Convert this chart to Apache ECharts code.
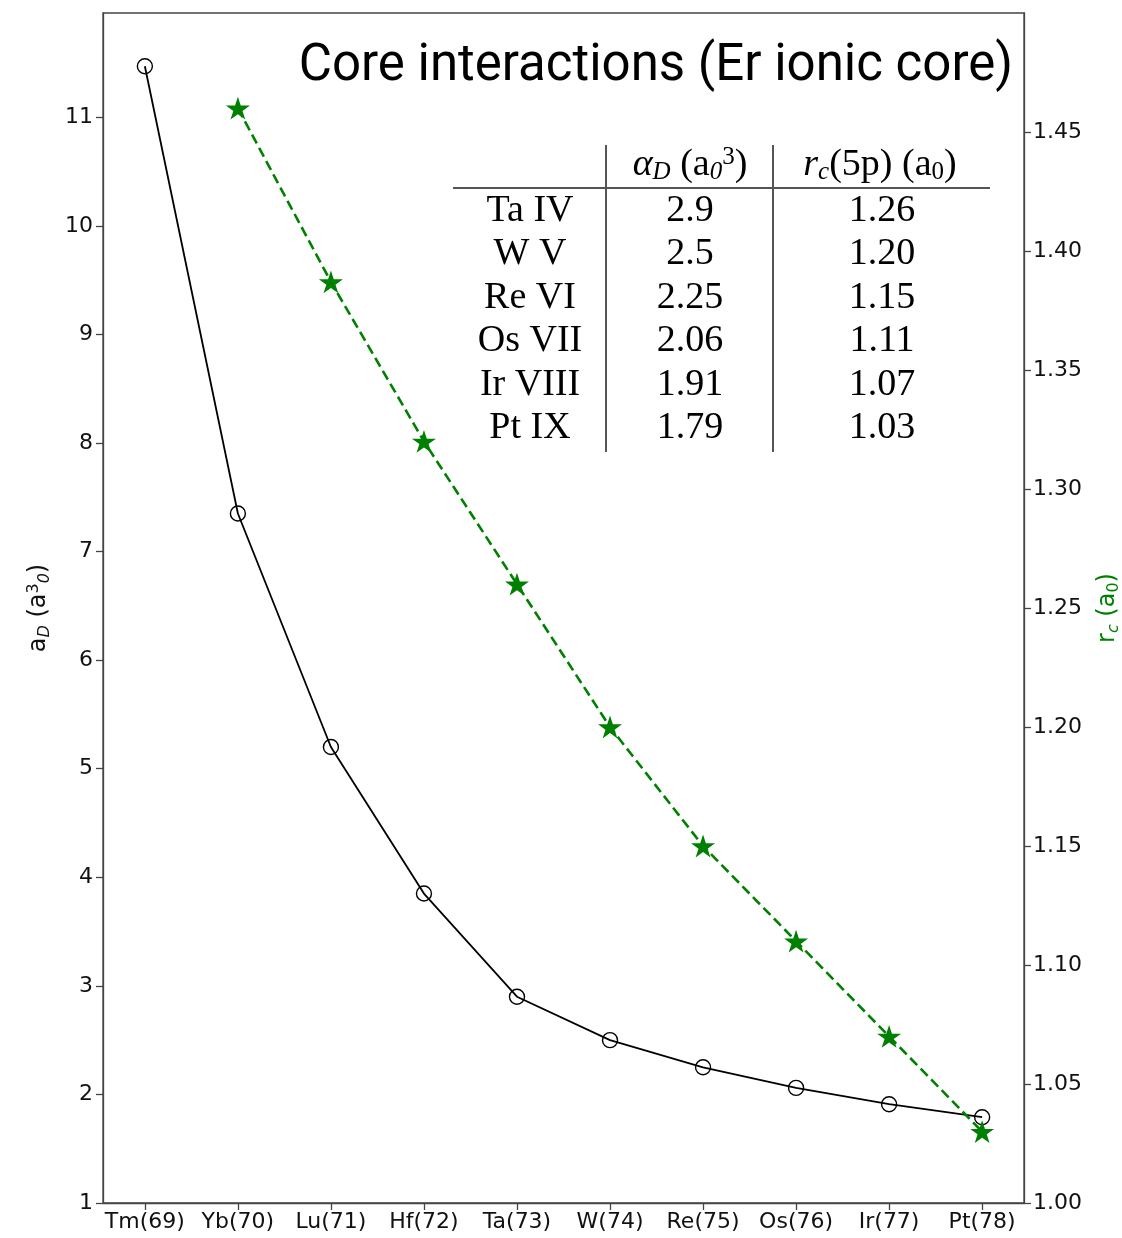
<!DOCTYPE html>
<html><head><meta charset="utf-8">
<script src="https://cdn.jsdelivr.net/npm/echarts@6/dist/echarts.min.js"></script>
<style>html,body{margin:0;padding:0;background:#fff;overflow:hidden}#c{width:1122px;height:1238px}</style>
</head><body><div id="c"></div>
<script>
// ---- data ----
const categories = ['Tm(69)','Yb(70)','Lu(71)','Hf(72)','Ta(73)','W(74)','Re(75)','Os(76)','Ir(77)','Pt(78)'];
const alphaD = [11.47, 7.35, 5.2, 3.85, 2.9, 2.5, 2.25, 2.06, 1.91, 1.79];
const rc5p = [null, 1.46, 1.387, 1.32, 1.26, 1.20, 1.15, 1.11, 1.07, 1.03];
const leftTicks = [1,2,3,4,5,6,7,8,9,10,11];
const rightTicks = [1.00,1.05,1.10,1.15,1.20,1.25,1.30,1.35,1.40,1.45];
const tableIons = ['Ta IV','W V','Re VI','Os VII','Ir VIII','Pt IX'];
const tableAlpha = ['2.9','2.5','2.25','2.06','1.91','1.79'];
const tableRc = ['1.26','1.20','1.15','1.11','1.07','1.03'];
const titleText = 'Core interactions (Er ionic core)';

const chart = echarts.init(document.getElementById('c'), null, {renderer:'canvas'});
const STAR = 'path://M50 0 L61.23 34.55 L97.55 34.55 L68.17 55.9 L79.39 90.45 L50 69.1 L20.61 90.45 L31.83 55.9 L2.45 34.55 L38.77 34.55 Z';
const GREEN = '#008000';
const SANS = 'DejaVu Sans';
const SERIF = 'Liberation Serif';
const AX = '#444';

const blackData = alphaD.map((v,i)=>[i,v]);
const greenData = rc5p.map((v,i)=>[i,v]).filter(d=>d[1]!==null);

// table graphics
const tbl = [];
const colX = [530, 690, 882];
const rowY0 = 211, rowDy = 43.4;
tbl.push({type:'line', shape:{x1:453,y1:188,x2:990,y2:188}, style:{stroke:'#555',lineWidth:2}});
tbl.push({type:'line', shape:{x1:606,y1:145,x2:606,y2:452}, style:{stroke:'#555',lineWidth:2}});
tbl.push({type:'line', shape:{x1:773,y1:145,x2:773,y2:452}, style:{stroke:'#555',lineWidth:2}});
const FS = 38;
const baseTxt = {fontFamily:SERIF, fontSize:FS, fill:'#000', align:'center', verticalAlign:'middle'};
// header
tbl.push({type:'text', x:690, y:165, style:Object.assign({}, baseTxt, {
  text:'{i|α}{sub|D} (a{sub|0}{sup|3})',
  rich:{i:{fontFamily:SERIF,fontStyle:'italic',fontSize:FS},
        sub:{fontFamily:SERIF,fontStyle:'italic',fontSize:25,padding:[15,0,0,0]},
        sup:{fontFamily:SERIF,fontSize:25,padding:[0,0,15,0]}}
})});
tbl.push({type:'text', x:880, y:165, style:Object.assign({}, baseTxt, {
  text:'{i|r}{sub|c}(5p) (a{s0|0})',
  rich:{i:{fontFamily:SERIF,fontStyle:'italic',fontSize:FS},
        sub:{fontFamily:SERIF,fontStyle:'italic',fontSize:25,padding:[15,0,0,0]},
        s0:{fontFamily:SERIF,fontSize:25,padding:[15,0,0,0]}}
})});
for (let r=0;r<tableIons.length;r++){
  const y = rowY0 + r*rowDy;
  [tableIons[r], tableAlpha[r], tableRc[r]].forEach((t,c)=>{
    tbl.push({type:'text', x:colX[c], y:y, style:Object.assign({}, baseTxt, {text:t})});
  });
}
tbl.push({type:'text', x:1013, y:67, style:{text:titleText, fontFamily:'Roboto', fontSize:51, fill:'#000', align:'right', verticalAlign:'middle'}});

chart.setOption({
  animation:false,
  backgroundColor:'#fff',
  grid:{left:103, width:921, top:13, height:1190, outerBoundsMode:'none', containLabel:false,
    show:true, borderColor:AX, borderWidth:1.3, backgroundColor:'transparent'},
  xAxis:{type:'value', min:-0.45, max:9.45,
    splitLine:{show:false},
    axisLine:{show:true, onZero:false, lineStyle:{color:AX, width:1.3}},
    axisTick:{show:true, length:7, lineStyle:{color:AX, width:1.3}, customValues:categories.map((c,i)=>i)},
    axisLabel:{customValues:categories.map((c,i)=>i), formatter:v=>categories[Math.round(v)], fontFamily:SANS, fontSize:22, color:'#111', margin:8}
  },
  yAxis:[
    {type:'value', min:1, max:11.96, position:'left',
      splitLine:{show:false},
      axisLine:{show:true, onZero:false, lineStyle:{color:AX, width:1.3}},
      axisTick:{show:true, length:7, lineStyle:{color:AX, width:1.3}, customValues:leftTicks},
      axisLabel:{customValues:leftTicks, formatter:v=>String(Math.round(v)), fontFamily:SANS, fontSize:22, color:'#111', margin:10},
      name:'a{sub|D} (a{sup|3}{sub|0})', nameLocation:'middle', nameRotate:90, nameGap:50,
      nameTextStyle:{fontFamily:SANS, fontSize:24, color:'#111',
        rich:{sub:{fontFamily:SANS,fontSize:16,fontStyle:'italic',padding:[12,0,0,0]}, sup:{fontFamily:SANS,fontSize:16,padding:[0,0,10,0]}}}
    },
    {type:'value', min:1.0, max:1.50, position:'right',
      splitLine:{show:false},
      axisLine:{show:true, onZero:false, lineStyle:{color:AX, width:1.3}},
      axisTick:{show:true, length:7, lineStyle:{color:AX, width:1.3}, customValues:rightTicks},
      axisLabel:{customValues:rightTicks, formatter:v=>v.toFixed(2), fontFamily:SANS, fontSize:22, color:'#111', margin:9},
      name:'r{sub|c} (a{sub0|0})', nameLocation:'middle', nameRotate:90, nameGap:70,
      nameTextStyle:{fontFamily:SANS, fontSize:24, color:GREEN,
        rich:{sub:{fontFamily:SANS,fontSize:16,fontStyle:'italic',color:GREEN,padding:[12,0,0,0]}, sub0:{fontFamily:SANS,fontSize:16,color:GREEN,padding:[12,0,0,0]}}}
    }
  ],
  series:[
    {type:'line', yAxisIndex:0, data:blackData, symbol:'circle', symbolSize:15,
      lineStyle:{color:'#000', width:1.8},
      itemStyle:{color:'rgba(0,0,0,0)', borderColor:'#000', borderWidth:1.4}, z:3},
    {type:'line', yAxisIndex:1, data:greenData, symbol:STAR, symbolSize:24, symbolKeepAspect:true,
      lineStyle:{color:GREEN, width:2.6, type:[10,5]},
      itemStyle:{color:GREEN}, z:4}
  ],
  graphic:tbl
});
</script></body></html>
